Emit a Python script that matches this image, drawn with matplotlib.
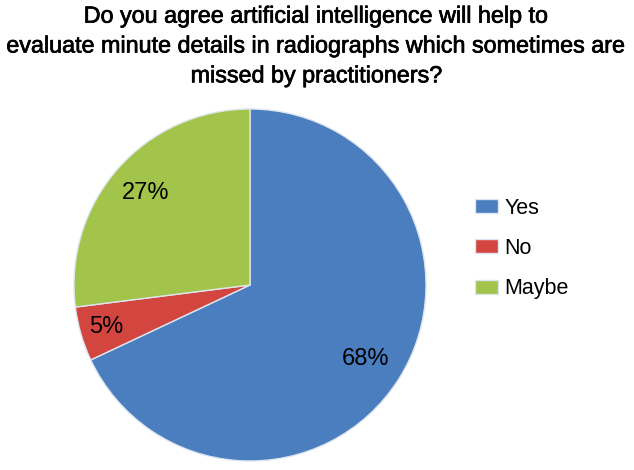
import matplotlib
matplotlib.use('Agg')
import matplotlib.pyplot as plt
import matplotlib.patheffects as pe
import numpy as np

plt.rcParams['font.family'] = ['Liberation Sans', 'DejaVu Sans']

title = ('Do you agree artificial intelligence will help to\n'
         'evaluate minute details in radiographs which sometimes are\n'
         'missed by practitioners?')
labels = ['Yes', 'No', 'Maybe']
values = [68, 5, 27]
colors = ['#4A7EBF', '#D2463F', '#A2C44A']
label_dist = [0.78, 0.85, 0.79]

fig = plt.figure(figsize=(6.34, 4.70), dpi=100)
fig.text(0.5, 1 - 46 / 470, title, ha='center', va='center',
         fontsize=16.8, linespacing=1.38,
         path_effects=[pe.withStroke(linewidth=0.5, foreground='black')])

ax = fig.add_axes([74 / 634, 9 / 470, 352 / 634, 352 / 470])
wedges, _ = ax.pie(values, colors=colors, startangle=90, counterclock=False,
                   radius=1,
                   wedgeprops=dict(edgecolor='#DDE6F0', linewidth=1))
ax.set_xlim(-1, 1)
ax.set_ylim(-1, 1)
ax.set_aspect('equal')
ax.axis('off')

for w, v, d in zip(wedges, values, label_dist):
    ang = np.deg2rad((w.theta1 + w.theta2) / 2)
    ax.text(d * np.cos(ang), d * np.sin(ang), '%d%%' % v,
            ha='center', va='center', fontsize=17)

fig.legend(wedges, labels, loc='upper left', bbox_to_anchor=(0.718, 0.621),
           frameon=False, fontsize=15.5, handlelength=1.07, handleheight=0.6,
           labelspacing=0.9, handletextpad=0.3)

fig.savefig('out.png', dpi=100)
